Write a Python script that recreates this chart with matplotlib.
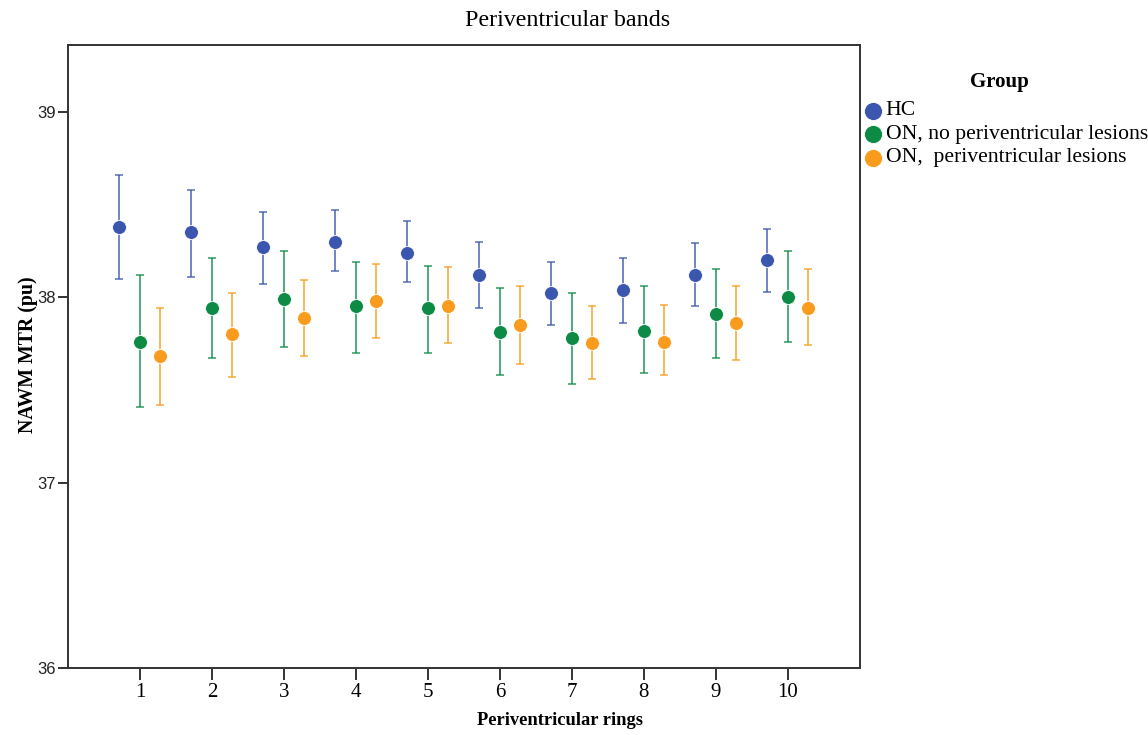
import matplotlib
matplotlib.use('Agg')

import matplotlib.pyplot as plt
import numpy as np

rings = [1, 2, 3, 4, 5, 6, 7, 8, 9, 10]

# mean MTR and the 95% CI bounds per group
hc_mean = [38.38, 38.35, 38.27, 38.30, 38.24, 38.12, 38.02, 38.04, 38.12, 38.20]
hc_low = [38.10, 38.11, 38.07, 38.14, 38.08, 37.94, 37.85, 37.86, 37.95, 38.03]
hc_high = [38.66, 38.58, 38.46, 38.47, 38.41, 38.30, 38.19, 38.21, 38.29, 38.37]

on_nl_mean = [37.76, 37.94, 37.99, 37.95, 37.94, 37.81, 37.78, 37.82, 37.91, 38.00]
on_nl_low = [37.41, 37.67, 37.73, 37.70, 37.70, 37.58, 37.53, 37.59, 37.67, 37.76]
on_nl_high = [38.12, 38.21, 38.25, 38.19, 38.17, 38.05, 38.02, 38.06, 38.15, 38.25]

on_l_mean = [37.68, 37.80, 37.89, 37.98, 37.95, 37.85, 37.75, 37.76, 37.86, 37.94]
on_l_low = [37.42, 37.57, 37.68, 37.78, 37.75, 37.64, 37.56, 37.58, 37.66, 37.74]
on_l_high = [37.94, 38.02, 38.09, 38.18, 38.16, 38.06, 37.95, 37.96, 38.06, 38.15]

groups = ["HC", "ON, no periventricular lesions", "ON,  periventricular lesions"]
colors = ["#3a56ae", "#0d8a43", "#f99b1c"]

serif = "Liberation Serif"
sans = "Liberation Sans"

fig = plt.figure(figsize=(11.48, 7.35), dpi=100)
ax = fig.add_axes([0.0592, 0.0912, 0.6898, 0.8476])

series = [(hc_mean, hc_low, hc_high), (on_nl_mean, on_nl_low, on_nl_high),
          (on_l_mean, on_l_low, on_l_high)]
offsets = [-0.29, 0.0, 0.28]

x = np.array(rings, dtype=float)
for (m, lo, hi), off, c in zip(series, offsets, colors):
    m = np.array(m)
    err = [m - np.array(lo), np.array(hi) - m]
    ax.errorbar(x + off, m, yerr=err, fmt='none', ecolor=c, alpha=0.72,
                elinewidth=1.4, capsize=2.6, capthick=1.3, zorder=2)
    ax.plot(x + off, m, 'o', color=c, markersize=10, markeredgecolor='white',
            markeredgewidth=0.6, zorder=3)

ax.set_xlim(0, 11)
ax.set_ylim(36, 39.36)
ax.set_xticks(rings)
ax.set_xticklabels([str(r) for r in rings], fontfamily=serif, fontsize=15)
ax.set_yticks([36, 37, 38, 39])
ax.set_yticklabels(["36", "37", "38", "39"], fontfamily=sans, fontsize=12)
ax.tick_params(axis='x', direction='out', length=8.5, width=1.4, colors='#333333',
               labelcolor='black', pad=2)
ax.tick_params(axis='y', direction='out', length=7, width=1.4, colors='#333333',
               labelcolor='#222222', pad=2)
for s in ax.spines.values():
    s.set_linewidth(1.4)
    s.set_color('#333333')

fig.text(0.494, 0.972, "Periventricular bands", ha='center', va='center',
         fontfamily=serif, fontsize=17.3)
fig.text(0.488, 0.020, "Periventricular rings", ha='center', va='center',
         fontfamily=serif, fontsize=13.3, fontweight='bold')
fig.text(0.024, 0.517, "NAWM MTR (pu)", ha='center', va='center', rotation=90,
         fontfamily=serif, fontsize=14.3, fontweight='bold')

# legend drawn by hand so the long label runs off the edge
fig.text(0.871, 0.889, "Group", ha='center', va='center',
         fontfamily=serif, fontsize=15, fontweight='bold')
for i, (g, c) in enumerate(zip(groups, colors)):
    yy = 0.849 - i * 0.0318
    fig.lines.append(plt.Line2D([0.7605], [yy], marker='o', markersize=13,
                                color=c, markeredgecolor='white', markeredgewidth=0.6,
                                transform=fig.transFigure))
    fig.text(0.7715, yy, g, ha='left', va='center', fontfamily=serif, fontsize=15.6)

fig.savefig("out.png", dpi=100)
